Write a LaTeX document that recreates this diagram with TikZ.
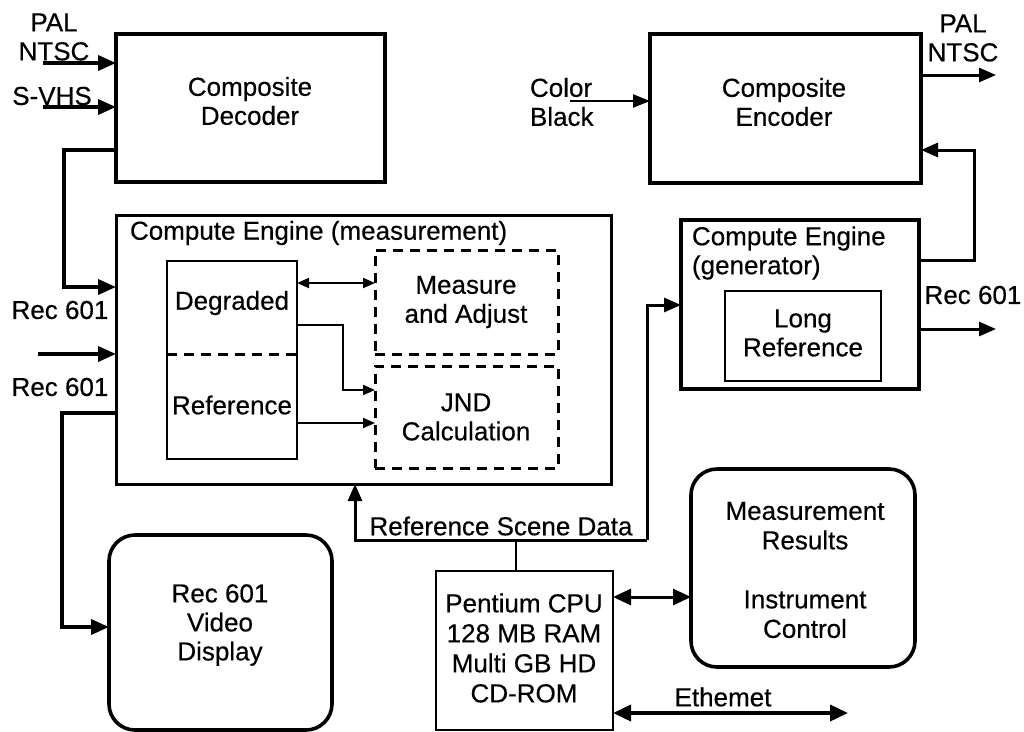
\documentclass[tikz,border=0pt]{standalone}
\usepackage{fontspec}
\setmainfont{Liberation Sans}[FakeBold=0.4]
\usetikzlibrary{arrows.meta}
\begin{document}
\begin{tikzpicture}[x=1pt,y=-1pt,
  every node/.style={font=\fontsize{26}{29}\selectfont, inner sep=0pt, outer sep=0pt},
  box/.style={draw, line width=3.6pt, anchor=north west},
  thinbox/.style={draw, line width=2pt, anchor=north west},
  dashbox/.style={draw, line width=3pt, dash pattern=on 10pt off 7pt, anchor=north west},
  roundbox/.style={draw, line width=3.6pt, rounded corners=26pt, anchor=north west},
  txt/.style={align=center},
  bigline/.style={line width=3.6pt, -{Triangle[length=18pt,width=15pt]}},
  midline/.style={line width=3pt, -{Triangle[length=17pt,width=14pt]}},
  smallline/.style={line width=2pt, -{Triangle[length=12pt,width=10pt]}},
  bothbig/.style={line width=3pt, {Triangle[length=18pt,width=16pt]}-{Triangle[length=18pt,width=16pt]}},
  bothsmall/.style={line width=2pt, {Triangle[length=12pt,width=10pt]}-{Triangle[length=12pt,width=10pt]}}
]
\useasboundingbox[fill=white] (0,0) rectangle (1024,731);

% ---- blocks ----
\node[box, minimum width=269pt, minimum height=148pt] (dec) at (116,34) {};
\node[box, minimum width=271pt, minimum height=149pt] (enc) at (650,34) {};
\node[draw, line width=3pt, anchor=north west, minimum width=495pt, minimum height=269pt] (meas) at (116,215) {};
\node[box, minimum width=238pt, minimum height=169pt] (gen) at (681,220) {};
\node[draw, line width=2.6pt, anchor=north west, minimum width=156pt, minimum height=90pt] (lref) at (725,291) {};
\node[thinbox, minimum width=130pt, minimum height=198pt] (dr) at (167,261) {};
\node[dashbox, minimum width=183pt, minimum height=104pt] (ma) at (375,250) {};
\node[dashbox, minimum width=183pt, minimum height=102pt] (jnd) at (375,366) {};
\node[roundbox, minimum width=223pt, minimum height=195pt] (disp) at (109,535) {};
\node[draw, line width=2.6pt, anchor=north west, minimum width=177pt, minimum height=159pt] (cpu) at (436,571) {};
\node[roundbox, minimum width=224pt, minimum height=198pt] (res) at (691,469) {};

% divider between the degraded and reference halves
\coordinate (divl) at (167,354);
\draw[line width=3pt, dash pattern=on 10pt off 7pt] (divl) -- (divl -| dr.east);

% ---- texts ----
\node[txt] (tpal) at (54,37) {PAL\\NTSC};
\node[txt] (tsvhs) at (52,96) {S-VHS};
\node[txt] (tdec) at (250,101) {Composite\\Decoder};
\node[align=left, anchor=west] (tcb) at (530,102) {Color\\Black};
\node[txt] (tenc) at (784,102) {Composite\\Encoder};
\node[txt] (tpalo) at (963,38) {PAL\\NTSC};
\node[anchor=west] (tmeas) at (130,233) {Compute Engine (measurement)};
\node[txt] (tdeg) at (232,303) {Degraded};
\node[txt] (tref) at (232,405) {Reference};
\node[txt] (tma) at (466,302) {Measure\\and Adjust};
\node[txt] (tjnd) at (466,417) {JND\\Calculation};
\node[txt] (trec1) at (60,310) {Rec 601};
\node[txt] (trec2) at (60,387) {Rec 601};
\node[align=left, anchor=west] (tgen) at (692,253) {Compute Engine\\(generator)};
\node[txt] (tlref) at (803,333) {Long\\Reference};
\node[txt] (treco) at (973,295) {Rec 601};
\node[txt] (trsd) at (501,526) {Reference Scene Data};
\node[txt] (tdisp) at (220,625) {Rec 601\\Video\\Display};
\node[align=center, font=\fontsize{26}{30}\selectfont] (tcpu) at (524,648) {Pentium CPU\\128 MB RAM\\Multi GB HD\\CD-ROM};
\node[align=center, font=\fontsize{26}{29.5}\selectfont] (tres) at (805,570) {Measurement\\Results\\[29.5pt]Instrument\\Control};
\node[txt] (teth) at (723,697) {Ethemet};

% ---- inputs to the decoder ----
\coordinate (ntscin) at (43,63);
\coordinate (svhsin) at (43,107);
\draw[bigline] (ntscin) -- (ntscin -| dec.west);
\draw[bigline] (svhsin) -- (svhsin -| dec.west);

% decoder output into the measurement engine
\coordinate (dk1) at (64,150);
\coordinate (dk2) at (64,287);
\draw[bigline] (dk1 -| dec.west) -- (dk1) -- (dk2) -- (dk2 -| meas.west);

% Rec 601 input
\coordinate (recin) at (38,354);
\draw[bigline] (recin) -- (recin -| meas.west);

% Rec 601 to the video display
\coordinate (vk1) at (62,413);
\coordinate (vk2) at (62,627);
\draw[bigline] (vk1 -| meas.west) -- (vk1) -- (vk2) -- (vk2 -| disp.west);

% ---- inside the measurement engine ----
\coordinate (ia) at (297,283);
\draw[bothsmall] (ia) -- (ia -| ma.west);
\coordinate (ib1) at (343,325);
\coordinate (ib2) at (343,390);
\draw[smallline] (ib1 -| dr.east) -- (ib1) -- (ib2) -- (ib2 -| jnd.west);
\coordinate (ic) at (297,423);
\draw[smallline] (ic) -- (ic -| jnd.west);

% ---- encoder side ----
\coordinate (cbin) at (570,101);
\draw[line width=2.4pt, -{Triangle[length=17pt,width=13pt]}] (cbin) -- (cbin -| enc.west);
\coordinate (palout) at (996,75);
\draw[midline] (palout -| enc.east) -- (palout);
\coordinate (gk1) at (974,260);
\coordinate (gk2) at (974,150);
\draw[midline] (gk1 -| gen.east) -- (gk1) -- (gk2) -- (gk2 -| enc.east);
\coordinate (recout) at (996,329);
\draw[midline] (recout -| gen.east) -- (recout);

% ---- reference scene data bus ----
\coordinate (rsl) at (355,540);
\coordinate (rsr) at (647,540);
\coordinate (rsg) at (647,305);
\coordinate (cputap) at (516,540);
\draw[midline] (rsr) -- (rsl) -- (rsl |- meas.south);
\draw[midline] (rsr) -- (rsg) -- (rsg -| gen.west);
\draw[line width=2pt] (cputap) -- (cputap |- cpu.north);

% ---- CPU links ----
\coordinate (cr) at (613,597);
\draw[bothbig] (cr) -- (cr -| res.west);
\coordinate (eth1) at (613,713);
\coordinate (eth2) at (848,713);
\draw[bothbig, line width=3.6pt] (eth1) -- (eth2);
\end{tikzpicture}
\end{document}
